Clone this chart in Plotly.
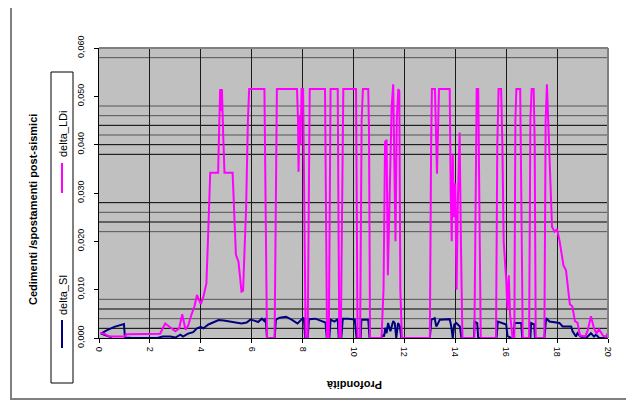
import plotly.graph_objects as go

# ---------------- data (depth in m, values in thousandths) ----------------
ldi_depth = [0.05, 0.2, 0.4, 1.0, 1.1, 1.5, 2.0, 2.4, 2.6, 2.8, 3.0, 3.15, 3.27, 3.4, 3.5, 3.63,
             3.75, 3.85, 4.0, 4.1, 4.22, 4.28, 4.33, 4.37, 4.68, 4.72, 4.76, 4.8, 4.83, 4.88, 4.93,
             5.25, 5.32, 5.38, 5.48, 5.55, 5.6, 5.66, 5.72, 5.78, 5.85, 5.9, 6.5, 6.55, 6.6, 6.9,
             6.95, 6.99, 7.78, 7.82, 7.84, 7.88, 7.92, 7.96, 8.02, 8.08, 8.12, 8.2, 8.24, 8.28,
             8.88, 8.93, 8.96, 9.03, 9.07, 9.1, 9.38, 9.41, 9.44, 9.5, 9.55, 9.6, 10.1, 10.13,
             10.16, 10.26, 10.32, 10.37, 10.58, 10.61, 10.65, 11.1, 11.18, 11.24, 11.3, 11.35,
             11.42, 11.5, 11.56, 11.6, 11.65, 11.7, 11.76, 11.8, 11.84, 11.9, 13.0, 13.05, 13.08,
             13.2, 13.28, 13.36, 13.78, 13.82, 13.86, 13.9, 13.95, 14.0, 14.05, 14.1, 14.17,
             14.22, 14.28, 14.75, 14.8, 14.84, 14.9, 14.95, 15.0, 15.6, 15.65, 15.7, 15.8, 15.85,
             15.9, 16.0, 16.05, 16.1, 16.15, 16.25, 16.32, 16.36, 16.4, 16.55, 16.6, 16.65, 16.9,
             16.95, 17.0, 17.08, 17.12, 17.16, 17.5, 17.55, 17.6, 17.65, 17.72, 17.8, 17.9, 18.0,
             18.1, 18.25, 18.35, 18.5, 18.6, 18.7, 18.8, 18.9, 19.1, 19.2, 19.33, 19.45, 19.55,
             19.65, 19.8, 19.9, 20.0]
ldi_val = [1.0, 0.9, 0.3, 0.3, 0.8, 0.8, 0.9, 0.9, 3.0, 2.2, 1.4, 2.0, 4.9, 1.7, 2.5, 4.8,
           6.5, 8.9, 7.0, 8.5, 11.3, 20, 30, 34.2, 34.2, 45, 51.5, 47, 51.5, 42, 34.2,
           34.2, 25, 17.2, 15.8, 12, 9.6, 9.8, 18, 26.8, 45, 51.5, 51.5, 25, 0, 0,
           30, 51.5, 51.5, 45, 34.4, 46, 40, 51.5, 51.5, 20, 0, 0, 40, 51.5,
           51.5, 20, 0, 0, 40, 51.5, 51.5, 20, 0, 0, 35, 51.5, 51.5, 20,
           0, 0, 45, 51.5, 51.5, 43, 0, 0, 10, 40.6, 41, 13,
           30, 48, 52.5, 38, 20, 45, 51.5, 51, 10, 0, 0, 40, 51.5,
           51.5, 34, 51.5, 51.5, 30, 20, 38, 25, 32, 10, 28, 42.5,
           20, 0, 0, 40, 51.5, 51.5, 30, 0, 0, 40, 51.5, 51.5, 40,
           20, 12, 6, 13, 5, 0, 0, 45, 51.5, 51.5, 30, 0, 0,
           45, 51.5, 51.5, 40, 0, 0, 45, 52.5, 44, 35, 23, 22, 22.5,
           20, 15, 14, 7, 6.5, 3.5, 3.2, 0.5, 0.3, 1.5, 4.5, 2, 1,
           1.8, 0.5, 0.2, 1.0]

si_depth = [0.5, 0.08, 0.3, 0.6, 0.98, 1.02, 1.3, 2.3, 2.5, 2.8, 3.0, 3.2, 3.3, 3.5, 3.7, 3.85,
            4.0, 4.1, 4.3, 4.5, 4.7, 4.9, 5.1, 5.4, 5.6, 5.8, 5.95, 6.1, 6.25, 6.4, 6.5, 6.55,
            6.6, 6.9, 6.95, 7.1, 7.35, 7.6, 7.8, 7.95, 8.05, 8.1, 8.2, 8.25, 8.5, 8.7, 8.9, 8.95,
            9.05, 9.1, 9.25, 9.38, 9.42, 9.52, 9.58, 9.8, 10.05, 10.12, 10.28, 10.31, 10.58,
            10.63, 11.1, 11.15, 11.2, 11.25, 11.3, 11.36, 11.45, 11.56, 11.62, 11.68, 11.75,
            11.82, 11.88, 13.0, 13.06, 13.19, 13.25, 13.3, 13.39, 13.78, 13.84, 13.9, 13.96,
            14.04, 14.18, 14.24, 14.73, 14.76, 14.86, 14.9, 15.62, 15.67, 15.85, 16.0, 16.05,
            16.2, 16.28, 16.33, 16.59, 16.63, 16.95, 16.98, 17.1, 17.13, 17.5, 17.57, 17.7,
            18.09, 18.22, 18.55, 18.61, 18.74, 18.8, 18.92, 19.14, 19.33, 19.45, 19.53, 19.65,
            20.0]
si_val = [0.1, 0.9, 1.6, 2.3, 2.9, 0.1, 0, 0, 0.3, 0.3, 0.1, 0.7, 0.3, 0.9, 1.2, 2.0,
          2.3, 2.0, 2.8, 3.3, 3.7, 3.6, 3.4, 3.2, 3.0, 3.2, 3.8, 3.6, 3.3, 4.0, 3.5, 4.1,
          0, 0, 3.8, 4.2, 4.4, 3.7, 3.0, 3.8, 4.2, 0, 0, 3.9, 4.0, 3.6, 3.2, 0,
          0, 3.8, 3.4, 3.9, 0, 0, 4.0, 4.0, 3.8, 0, 0, 3.8, 3.8,
          0, 0, 0.7, 0.3, 2.1, 1.0, 3.1, 1.4, 3.5, 3.1, 0, 3.1,
          2.4, 0, 0, 3.8, 4.1, 2.4, 2.8, 3.8, 3.9, 2.4, 0, 2.8,
          3.1, 2.4, 0, 0, 3.4, 3.1, 0, 0, 3.4, 3.1, 2.8, 0.4,
          0, 0, 3.1, 3.1, 0, 0, 3.1, 2.8, 0, 0, 4.1, 3.4,
          3.1, 2.4, 2.4, 1.4, 0.3, 1.0, 0.3, 0, 1.0, 0.3, 0.7, 0,
          0]

x_ticks = [0, 2, 4, 6, 8, 10, 12, 14, 16, 18, 20]
y_ticks = [0.0, 0.01, 0.02, 0.03, 0.04, 0.05, 0.06]
grid_dark = [0.002, 0.006, 0.024, 0.028, 0.038, 0.040, 0.044]
grid_grey = [0.004, 0.008, 0.022, 0.026, 0.042, 0.046, 0.048, 0.058]

# ---------------- figure (page has an 8px body margin) ----------------
OFF = 8
W, H = 634 - OFF, 401 - OFF
L, R, T, B = 99 - OFF, 608 - OFF, 48 - OFF, 338 - OFF


def px(x):
    return (x - OFF - L) / (R - L)


def py(y):
    return (B - (y - OFF)) / (B - T)


fig = go.Figure()
fig.add_trace(go.Scatter(x=si_depth, y=[v / 1000 for v in si_val], mode="lines",
                         name="delta_SI", line=dict(color="#000080", width=2)))
fig.add_trace(go.Scatter(x=ldi_depth, y=[v / 1000 for v in ldi_val], mode="lines",
                         name="delta_LDi", line=dict(color="#FF00FF", width=2)))

shapes = []
for g in grid_grey:
    shapes.append(dict(type="line", xref="paper", yref="y", x0=0, x1=1, y0=g, y1=g,
                       line=dict(color="#555555", width=1), layer="below"))
for g in grid_dark:
    shapes.append(dict(type="line", xref="paper", yref="y", x0=0, x1=1, y0=g, y1=g,
                       line=dict(color="#000000", width=1), layer="below"))
# plot area border (top / right, grey)
shapes.append(dict(type="line", xref="paper", yref="paper", x0=0, x1=1, y0=1, y1=1,
                   line=dict(color="#808080", width=2)))
shapes.append(dict(type="line", xref="paper", yref="paper", x0=1, x1=1, y0=0, y1=1,
                   line=dict(color="#808080", width=2)))
# outer chart frame
shapes.append(dict(type="rect", xref="paper", yref="paper", x0=px(11), x1=px(632),
                   y0=py(399), y1=py(7), line=dict(color="#808080", width=2)))
# legend box and keys
shapes.append(dict(type="rect", xref="paper", yref="paper", x0=px(51), x1=px(73),
                   y0=py(383), y1=py(72), line=dict(color="#000000", width=1),
                   fillcolor="white"))
shapes.append(dict(type="line", xref="paper", yref="paper", x0=px(62), x1=px(62),
                   y0=py(193), y1=py(163), line=dict(color="#FF00FF", width=2)))
shapes.append(dict(type="line", xref="paper", yref="paper", x0=px(62), x1=px(62),
                   y0=py(348), y1=py(320), line=dict(color="#000080", width=2)))

annotations = [
    dict(text="delta_LDi", xref="paper", yref="paper", x=px(63), y=py(134), textangle=-90,
         showarrow=False, font=dict(size=11, color="black"), xanchor="center", yanchor="middle"),
    dict(text="delta_SI", xref="paper", yref="paper", x=px(63), y=py(295), textangle=-90,
         showarrow=False, font=dict(size=11, color="black"), xanchor="center", yanchor="middle"),
    dict(text="<b>Cedimenti /spostamenti post-sismici</b>", xref="paper", yref="paper",
         x=px(33), y=py(210), textangle=-90, showarrow=False,
         font=dict(size=11, color="black"), xanchor="center", yanchor="middle"),
    dict(text="<b>Profondità</b>", xref="paper", yref="paper", x=px(354), y=py(385),
         textangle=180, showarrow=False, font=dict(size=11, color="black"),
         xanchor="center", yanchor="middle"),
]

fig.update_layout(
    width=W, height=H,
    margin=dict(l=L, r=W - R, t=T, b=H - B, pad=0),
    paper_bgcolor="white", plot_bgcolor="#C0C0C0",
    showlegend=False,
    separators=",.",
    font=dict(family="Liberation Sans, Arial, sans-serif", size=9, color="black"),
    shapes=shapes, annotations=annotations,
    xaxis=dict(range=[0, 20], tickvals=x_ticks, tickangle=90, showgrid=True,
               gridcolor="#1a1a1a", gridwidth=1, zeroline=False, showline=True,
               linecolor="black", linewidth=1, ticks="outside", ticklen=4,
               tickcolor="black", tickfont=dict(size=9), ticklabelstandoff=2),
    yaxis=dict(range=[0, 0.06], tickvals=y_ticks, tickformat=".3f", tickangle=-90,
               showgrid=False, zeroline=False, showline=True, linecolor="black",
               linewidth=1, ticks="outside", ticklen=4, tickcolor="black",
               tickfont=dict(size=9), ticklabelstandoff=6),
)

fig.write_html("out.html")
